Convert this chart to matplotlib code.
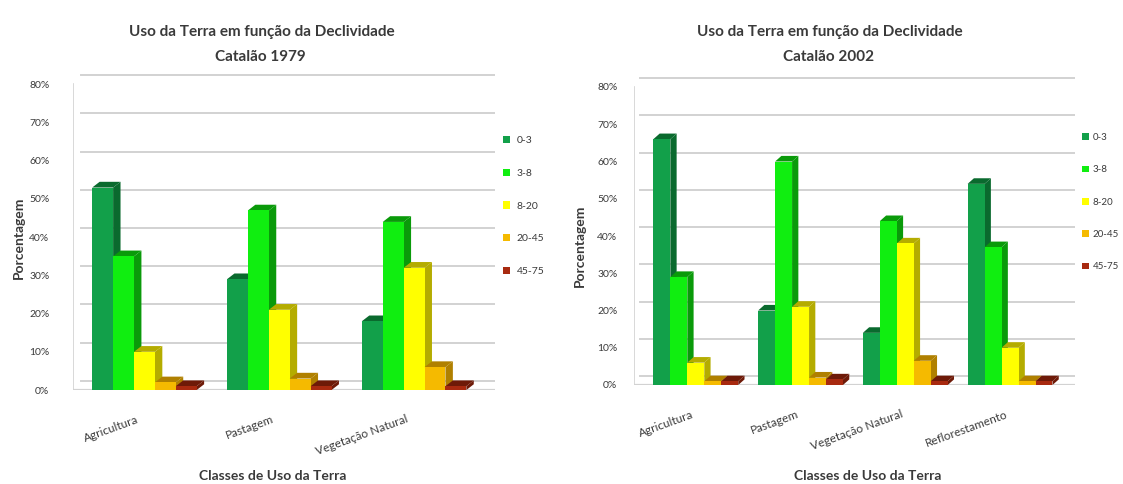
import matplotlib
matplotlib.use("Agg")
import matplotlib.pyplot as plt
from matplotlib.patches import Polygon
from matplotlib.ticker import PercentFormatter
import numpy as np

plt.rcParams['font.family'] = ['Lato', 'DejaVu Sans']

# Slope classes (declividade, %)
classes = ["0-3", "3-8", "8-20", "20-45", "45-75"]
colors = ["#12A04A", "#10EE10", "#FFFF00", "#F5BA00", "#A82A10"]
side_colors = ["#0A6A2E", "#0A9A0A", "#B4AC00", "#B08000", "#6E1A08"]

# Land use in 1979
uso_1979 = ["Agricultura", "Pastagem", "Vegetação Natural"]
agric_1979 = [53, 35, 10, 2, 1]
past_1979 = [29, 47, 21, 3, 1]
veg_1979 = [18, 44, 32, 6, 1]

# Land use in 2002
uso_2002 = ["Agricultura", "Pastagem", "Vegetação Natural", "Reflorestamento"]
agric_2002 = [66, 29, 6, 1, 1]
past_2002 = [20, 60, 21, 2, 1.5]
veg_2002 = [14, 44, 38, 6.5, 1]
reflo_2002 = [54, 37, 10, 1, 1]

yticks = [0, 10, 20, 30, 40, 50, 60, 70, 80]
YMAX = 84

W, H = 1123, 484
fig = plt.figure(figsize=(W / 100, H / 100), dpi=100)
TXT = "#3A3A3A"
GRID = "#D2D2D2"


def px(x0, y0, x1, y1):
    """Axes rectangle from pixel edges (top-left origin)."""
    return [x0 / W, 1 - y1 / H, (x1 - x0) / W, (y1 - y0) / H]


def draw_chart(rect, xlim, cats, series_by_cat, bar_w, depth_x, depth_y, label_shift, tick_pad):
    ax = fig.add_axes(rect)
    data = np.array(series_by_cat)  # rows: categories, cols: classes
    n_cls = data.shape[1]
    x = np.arange(len(cats))
    offsets = (np.arange(n_cls) - (n_cls - 1) / 2) * bar_w
    # back wall gridlines, floor and side wall
    for y in yticks:
        ax.plot([xlim[0] + 0.06, xlim[1]], [y + depth_y * 1.6] * 2, color=GRID, lw=1.4, zorder=0)
    ax.plot([xlim[0], xlim[1]], [0, 0], color=GRID, lw=1.6, zorder=1)
    ax.plot([xlim[0], xlim[0]], [0, 80], color=GRID, lw=1.2, zorder=1)
    handles = []
    for j in range(n_cls):
        z = 2 + j * 0.1
        for i in range(len(cats)):
            v = data[i, j]
            xc = x[i] + offsets[j]
            x0, x1 = xc - bar_w / 2, xc + bar_w / 2
            ax.add_patch(Polygon([(x1, 0), (x1 + depth_x, depth_y), (x1 + depth_x, v + depth_y), (x1, v)],
                                 closed=True, facecolor=side_colors[j], edgecolor="none", zorder=z))
            ax.add_patch(Polygon([(x0, v), (x0 + depth_x, v + depth_y), (x1 + depth_x, v + depth_y), (x1, v)],
                                 closed=True, facecolor=side_colors[j], edgecolor="none", zorder=z))
        b = ax.bar(x + offsets[j], data[:, j], width=bar_w, color=colors[j],
                   edgecolor="none", zorder=z + 0.05, label=classes[j])
        handles.append(b)
    ax.set_xlim(*xlim)
    ax.set_ylim(0, YMAX)
    ax.set_yticks(yticks)
    ax.yaxis.set_major_formatter(PercentFormatter(decimals=0))
    ax.set_xticks(x + label_shift)
    ax.set_xticklabels(cats, rotation=20, ha="right", rotation_mode="anchor",
                       fontsize=8.5, color=TXT)
    ax.tick_params(axis="y", labelsize=7.5, labelcolor=TXT, length=0, pad=tick_pad)
    ax.tick_params(axis="x", length=0, pad=17)
    for s in ax.spines.values():
        s.set_visible(False)
    return ax, handles


# pixel scale: left 3.82 px per %, right 3.725 px per %
ax1, h1 = draw_chart(px(73, 390 - 3.82 * YMAX, 495, 390), (-0.53, 2.6), uso_1979,
                     [agric_1979, past_1979, veg_1979], 0.155, 0.055, 1.5, -0.06, 17)
ax2, h2 = draw_chart(px(634, 385 - 3.725 * YMAX, 1075, 385), (-0.59, 3.62), uso_2002,
                     [agric_2002, past_2002, veg_2002, reflo_2002], 0.162, 0.06, 1.5, -0.04, 12)

# Titles
fig.text(262 / W, 1 - 32 / H, "Uso da Terra em função da Declividade", ha="center", va="center",
         fontsize=11, fontweight="bold", color=TXT)
fig.text(260 / W, 1 - 57 / H, "Catalão 1979", ha="center", va="center",
         fontsize=11, fontweight="bold", color=TXT)
fig.text(830 / W, 1 - 32 / H, "Uso da Terra em função da Declividade", ha="center", va="center",
         fontsize=11, fontweight="bold", color=TXT)
fig.text(829 / W, 1 - 57 / H, "Catalão 2002", ha="center", va="center",
         fontsize=11, fontweight="bold", color=TXT)

# Axis titles
for xc in (273, 868):
    fig.text(xc / W, 1 - 476 / H, "Classes de Uso da Terra", ha="center", va="center",
             fontsize=10, fontweight="bold", color=TXT)
fig.text(19 / W, 1 - 238 / H, "Porcentagem", ha="center", va="center", rotation=90,
         fontsize=10, fontweight="bold", color=TXT)
fig.text(580 / W, 1 - 246 / H, "Porcentagem", ha="center", va="center", rotation=90,
         fontsize=10, fontweight="bold", color=TXT)

# Legends
fig.legend(handles=h1, loc="upper left", bbox_to_anchor=(503 / W, 1 - 136 / H), frameon=False,
           fontsize=7.5, handlelength=0.7, handleheight=0.7, handletextpad=0.6,
           labelspacing=2.25, labelcolor=TXT, borderaxespad=0, borderpad=0)
fig.legend(handles=h2, loc="upper left", bbox_to_anchor=(1082 / W, 1 - 133 / H), frameon=False,
           fontsize=7, handlelength=0.7, handleheight=0.7, handletextpad=0.4,
           labelspacing=2.4, labelcolor=TXT, borderaxespad=0, borderpad=0)

fig.savefig("out.png", dpi=100, facecolor="white")
